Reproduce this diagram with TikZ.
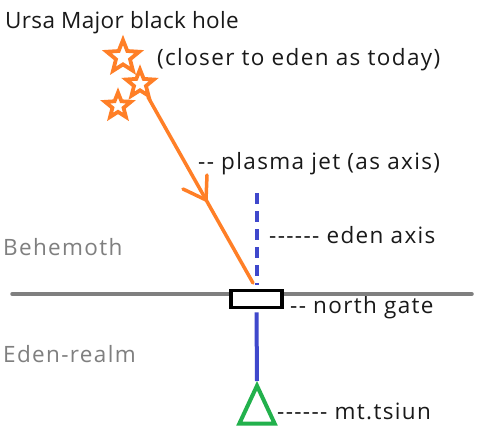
\documentclass[tikz,border=0pt]{standalone}
\usepackage{fontspec}
\setmainfont{Open Sans}[LetterSpace=6]
\newfontfamily\titlefont{Open Sans}[LetterSpace=1.5]
\usetikzlibrary{shapes.geometric}
\definecolor{porange}{RGB}{255,127,39}
\definecolor{pblue}{RGB}{63,72,204}
\definecolor{pgreen}{RGB}{34,177,76}
\definecolor{pgray}{RGB}{127,127,127}
\begin{document}
\begin{tikzpicture}[x=1pt,y=-1pt,
  lbl/.style={anchor=base west,inner sep=0pt,font=\fontsize{22.5}{26}\selectfont,text=black!90},
  glbl/.style={lbl,text=pgray},
  staricon/.style={star,star points=5,star point ratio=2.3,draw=porange,line width=3.8pt,inner sep=0pt,line join=miter},
  jet/.style={draw=porange,line width=3.5pt,line cap=round},
  axisline/.style={draw=pblue,line width=4pt}]
\useasboundingbox (0,0) rectangle (477,432);
\fill[white] (0,0) rectangle (477,432);
% texts
\node[lbl,font=\titlefont\fontsize{22.5}{26}\selectfont] (ursa) at (5,28) {Ursa Major black hole};
\node[lbl] (closer) at (157,65) {(closer to eden as today)};
\node[lbl] (plasma) at (198,169) {-{}- plasma jet (as axis)};
\node[lbl] (edenaxis) at (269,243) {-{}-{}-{}-{}-{}- eden axis};
\node[glbl] (behemoth) at (3,255) {Behemoth};
\node[lbl] (ngate) at (290,313) {-{}- north gate};
\node[glbl] (edenrealm) at (3,362) {Eden-realm};
\node[lbl] (tsiun) at (277,419) {-{}-{}-{}-{}-{}- mt.tsiun};
% stars
\node[staricon,minimum size=34pt] (s1) at (123,57) {};
\node[staricon,minimum size=29pt] (s2) at (140,84) {};
\node[staricon,minimum size=27pt] (s3) at (118,106) {};
% ground line
\coordinate (gl) at (12,294);
\coordinate (gr) at (472,294);
\draw[pgray,line width=3.5pt,line cap=round] (gl) -- (gr);
% gate
\node[draw=black,fill=white,line width=3.8pt,minimum width=51pt,minimum height=17pt,inner sep=0pt] (gate) at (256.5,299) {};
% axes
\coordinate (axtop) at (257,193);
\coordinate (axbot) at (257,285);
\draw[axisline,dash pattern=on 11pt off 7pt] (axtop) -- (axbot);
% triangle
\node[isosceles triangle,isosceles triangle apex angle=50,shape border rotate=90,draw=pgreen,line width=4pt,minimum height=38pt,inner sep=0pt,anchor=apex] (mt) at (257,381) {};
\draw[axisline] ([yshift=-3pt]gate.south) -- (mt.apex);
% jet
\coordinate (jetend) at (253,283);
\draw[jet] (148,97) -- (jetend);
\coordinate (tip) at (206,200);
\draw[jet,line join=round] (183,189) -- (tip) -- (207,175);
\end{tikzpicture}
\end{document}
